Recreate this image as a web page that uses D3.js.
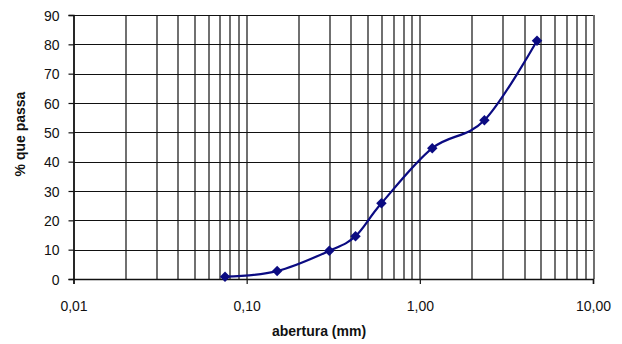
<!DOCTYPE html>
<html>
<head>
<meta charset="utf-8">
<script src="https://cdn.jsdelivr.net/npm/d3@7"></script>
<style>
  body { margin: 0; background: #fff; }
  svg text { font-family: "Liberation Sans", Arial, sans-serif; fill: #111; }
</style>
</head>
<body>
<div id="chart"></div>
<script>
// sieve openings (mm) and % passing
var abertura = [0.075, 0.15, 0.3, 0.425, 0.6, 1.18, 2.36, 4.75];
var passa = [0.8, 2.7, 9.6, 14.6, 25.8, 44.6, 54.1, 81.2];
var xTicks = [0.01, 0.1, 1, 10];
var yTicks = [0, 10, 20, 30, 40, 50, 60, 70, 80, 90];

var width = 622, height = 344;
var margin = { top: 15, right: 29, bottom: 65, left: 73.5 };
var w = width - margin.left - margin.right,
    h = height - margin.top - margin.bottom;

var svg = d3.select("#chart").append("svg")
  .attr("width", width)
  .attr("height", height);

var g = svg.append("g")
  .attr("transform", "translate(" + margin.left + "," + margin.top + ")");

var x = d3.scaleLog().domain([0.01, 10]).range([0, w]);
var y = d3.scaleLinear().domain([0, 90]).range([h, 0]);

// minor grid: every 1..9 in each decade
var gridX = [];
for (var d = 0.01; d < 10; d *= 10) {
  for (var k = 1; k <= 9; k++) gridX.push(+(d * k).toPrecision(3));
}
gridX.push(10);

g.selectAll(".vgrid").data(gridX).enter().append("line")
  .attr("class", "vgrid")
  .attr("x1", function (d) { return Math.round(x(d)) + 0.5; })
  .attr("x2", function (d) { return Math.round(x(d)) + 0.5; })
  .attr("y1", 0).attr("y2", h)
  .attr("stroke", "#111").attr("stroke-width", 1.2);

g.selectAll(".hgrid").data(yTicks).enter().append("line")
  .attr("class", "hgrid")
  .attr("x1", 0).attr("x2", w)
  .attr("y1", function (d) { return Math.round(y(d)) + 0.5; })
  .attr("y2", function (d) { return Math.round(y(d)) + 0.5; })
  .attr("stroke", "#111").attr("stroke-width", 1.2);

// y axis
var yAxis = d3.axisLeft(y).tickValues(yTicks).tickSize(5).tickPadding(9)
  .tickFormat(d3.format("d"));
g.append("g").attr("class", "y axis").call(yAxis)
  .call(function (s) {
    s.select(".domain").attr("stroke", "#111").attr("stroke-width", 1.5);
    s.selectAll(".tick line").attr("stroke", "#111").attr("stroke-width", 1.2);
    s.selectAll("text").style("font-size", "14px").attr("dy", "0.36em");
  });

// x axis
var xAxis = d3.axisBottom(x).tickValues(xTicks).tickSize(5).tickPadding(17)
  .tickFormat(function (d) { return d3.format(".2f")(d).replace(".", ","); });
g.append("g").attr("class", "x axis")
  .attr("transform", "translate(0," + h + ")")
  .call(xAxis)
  .call(function (s) {
    s.select(".domain").attr("stroke", "#111").attr("stroke-width", 1.5);
    s.selectAll(".tick line").attr("stroke", "#111").attr("stroke-width", 1.2);
    s.selectAll("text").style("font-size", "14px");
  });

// curve
var pts = abertura.map(function (a, i) { return [a, passa[i]]; });
var line = d3.line()
  .x(function (d) { return x(d[0]); })
  .y(function (d) { return y(d[1]); })
  .curve(d3.curveCatmullRom.alpha(0));

g.append("path")
  .datum(pts)
  .attr("d", line)
  .attr("fill", "none")
  .attr("stroke", "#0b0b82")
  .attr("stroke-width", 2.2);

g.selectAll(".pt").data(pts).enter().append("path")
  .attr("class", "pt")
  .attr("d", d3.symbol().type(d3.symbolDiamond2).size(70))
  .attr("transform", function (d) { return "translate(" + x(d[0]) + "," + y(d[1]) + ")"; })
  .attr("fill", "#0b0b82");

// titles
svg.append("text")
  .attr("x", 319).attr("y", 336)
  .attr("text-anchor", "middle")
  .style("font-size", "14px").style("font-weight", "bold")
  .text("abertura (mm)");

svg.append("text")
  .attr("transform", "translate(25,134) rotate(-90)")
  .attr("text-anchor", "middle")
  .style("font-size", "14px").style("font-weight", "bold")
  .text("% que passa");
</script>
</body>
</html>
